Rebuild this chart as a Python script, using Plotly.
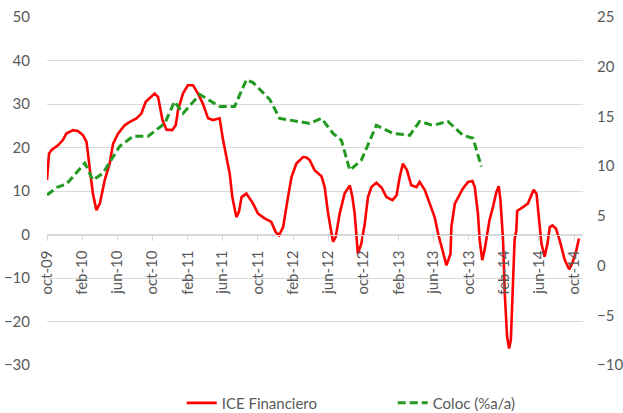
import plotly.graph_objects as go

# ICE Financiero (left axis)
ice_dates = [
    "2009-10-01", "2009-10-08", "2009-10-16", "2009-11-08", "2009-11-25", "2009-12-07",
    "2009-12-30", "2010-01-16", "2010-02-03", "2010-02-15", "2010-02-24", "2010-03-09",
    "2010-03-21", "2010-04-02", "2010-04-19", "2010-05-06", "2010-05-18", "2010-06-04",
    "2010-06-27", "2010-07-15", "2010-08-07", "2010-08-24", "2010-09-08", "2010-09-22",
    "2010-10-09", "2010-10-21", "2010-10-26", "2010-11-05", "2010-11-19", "2010-12-09",
    "2010-12-21", "2010-12-29", "2011-01-15", "2011-02-01", "2011-02-19", "2011-03-08",
    "2011-03-25", "2011-04-12", "2011-04-29", "2011-05-22", "2011-06-03", "2011-06-15",
    "2011-06-26", "2011-07-05", "2011-07-19", "2011-07-28", "2011-08-06", "2011-08-23",
    "2011-09-15", "2011-10-02", "2011-10-25", "2011-11-17", "2011-12-02", "2011-12-14",
    "2011-12-28", "2012-01-14", "2012-01-26", "2012-02-12", "2012-03-06", "2012-03-18",
    "2012-03-29", "2012-04-15", "2012-05-09", "2012-05-20", "2012-06-01", "2012-06-18",
    "2012-06-27", "2012-07-05", "2012-07-11", "2012-07-28", "2012-08-15", "2012-08-24",
    "2012-09-01", "2012-09-12", "2012-09-24", "2012-10-06", "2012-10-17", "2012-10-29",
    "2012-11-15", "2012-12-03", "2012-12-20", "2013-01-10", "2013-01-24", "2013-02-04",
    "2013-02-15", "2013-03-01", "2013-03-16", "2013-04-03", "2013-04-14", "2013-05-02",
    "2013-05-19", "2013-06-05", "2013-06-17", "2013-07-04", "2013-07-16", "2013-07-30",
    "2013-08-02", "2013-08-14", "2013-08-25", "2013-09-11", "2013-09-29", "2013-10-14",
    "2013-10-22", "2013-11-02", "2013-11-08", "2013-11-17", "2013-11-25", "2013-12-07",
    "2013-12-12", "2013-12-24", "2014-01-05", "2014-01-13", "2014-01-19", "2014-01-28",
    "2014-02-03", "2014-02-11", "2014-02-18", "2014-02-24", "2014-03-01", "2014-03-09",
    "2014-03-15", "2014-03-18", "2014-04-07", "2014-04-24", "2014-05-06", "2014-05-14",
    "2014-05-24", "2014-05-29", "2014-06-06", "2014-06-10", "2014-06-21", "2014-07-01",
    "2014-07-09", "2014-07-18", "2014-07-30", "2014-08-12", "2014-08-30", "2014-09-14",
    "2014-09-25", "2014-10-09", "2014-10-18",
]
ice_values = [
    12.5, 18.6, 19.4, 20.5, 21.7, 23.2,
    24.0, 23.8, 22.8, 21.3, 16.3, 9.4,
    5.6, 7.1, 12.5, 16.3, 20.9, 23.2,
    25.1, 25.9, 26.7, 27.8, 30.5, 31.3,
    32.4, 31.6, 30.1, 26.3, 24.1, 24.0,
    25.1, 28.6, 32.4, 34.3, 34.3, 32.4,
    30.1, 26.7, 26.3, 26.7, 21.7, 17.8,
    14.0, 8.6, 4.0, 5.2, 8.6, 9.4,
    7.1, 4.8, 3.7, 2.9, 0.6, -0.2,
    1.7, 8.6, 13.2, 16.3, 17.8, 17.7,
    17.1, 14.8, 13.4, 10.9, 4.8, -1.7,
    -0.6, 2.5, 4.8, 9.4, 11.3, 8.6,
    4.8, -4.4, -2.1, 2.5, 8.6, 10.9,
    11.9, 10.8, 8.6, 7.9, 9.0, 13.2,
    16.3, 14.8, 11.3, 10.9, 12.1, 10.2,
    7.1, 4.0, 0.2, -4.4, -7.1, -4.4,
    1.7, 7.1, 8.6, 10.6, 12.1, 12.3,
    10.9, 4.8, -1.3, -5.9, -3.6, 1.0,
    3.3, 6.3, 9.8, 11.1, 7.9, -1.3,
    -13.6, -23.5, -26.2, -24.3, -14.3, -1.3,
    1.0, 5.4, 6.3, 7.1, 9.0, 10.3,
    9.4, 5.6, 1.0, -2.1, -5.1, -2.1,
    1.7, 2.1, 1.4, -1.3, -5.9, -8.0,
    -6.6, -3.6, -0.9,
]

# Coloc (%a/a) (right axis)
coloc_dates = [
    "2009-10-01", "2009-11-07", "2009-12-08", "2010-02-09", "2010-03-09", "2010-04-13",
    "2010-06-10", "2010-07-26", "2010-09-16", "2010-11-13", "2010-12-17", "2011-01-15",
    "2011-03-14", "2011-05-22", "2011-07-13", "2011-08-23", "2011-09-15", "2011-11-12",
    "2011-12-16", "2012-02-12", "2012-03-29", "2012-05-09", "2012-06-18", "2012-07-17",
    "2012-08-15", "2012-09-24", "2012-11-15", "2013-01-12", "2013-03-11", "2013-04-14",
    "2013-05-30", "2013-07-21", "2013-09-11", "2013-10-16", "2013-11-14",
]
coloc_values = [
    7.1, 7.9, 8.2, 10.3, 8.6, 9.3,
    12.0, 13.0, 13.0, 14.3, 16.5, 15.3,
    17.2, 16.0, 16.0, 18.7, 18.4, 16.7,
    14.8, 14.5, 14.3, 14.8, 13.3, 12.6,
    9.6, 10.6, 14.1, 13.3, 13.1, 14.5,
    14.1, 14.5, 13.1, 12.8, 9.95,
]

tick_dates = [
    "2009-10-01", "2010-02-01", "2010-06-01", "2010-10-01", "2011-02-01", "2011-06-01",
    "2011-10-01", "2012-02-01", "2012-06-01", "2012-10-01", "2013-02-01", "2013-06-01",
    "2013-10-01", "2014-02-01", "2014-06-01", "2014-10-01",
]
tick_labels = [
    "oct-09", "feb-10", "jun-10", "oct-10", "feb-11", "jun-11",
    "oct-11", "feb-12", "jun-12", "oct-12", "feb-13", "jun-13",
    "oct-13", "feb-14", "jun-14", "oct-14",
]

FONT = "Lato, 'Open Sans', sans-serif"
GRAY = "#595959"
FS = 15

fig = go.Figure()
fig.add_trace(go.Scatter(
    x=ice_dates, y=ice_values, name="ICE Financiero", mode="lines",
    line=dict(color="#FF0000", width=2.6), yaxis="y",
))
fig.add_trace(go.Scatter(
    x=coloc_dates, y=coloc_values, name="Coloc (%a/a)", mode="lines",
    line=dict(color="#229A22", width=3, dash="8px,4px"), yaxis="y2",
))

fig.update_layout(
    width=623, height=413,
    margin=dict(l=47, r=40, t=17, b=48, autoexpand=False),
    paper_bgcolor="white", plot_bgcolor="white",
    font=dict(family=FONT, size=FS, color=GRAY),
    showlegend=True,
    legend=dict(
        orientation="h", x=0.645, xanchor="center", y=-0.062, yanchor="top",
        font=dict(family=FONT, size=FS, color=GRAY),
        entrywidth=166, entrywidthmode="pixels",
    ),
    xaxis=dict(
        type="date",
        range=["2009-10-01", "2014-11-01"],
        tickvals=tick_dates, ticktext=tick_labels,
        tickangle=-90,
        anchor="free", position=0.375,
        showline=True, linecolor="#D9D9D9", linewidth=1,
        ticks="outside", ticklen=5, tickcolor="#D9D9D9",
        ticklabelstandoff=4,
        showgrid=False, zeroline=False, automargin=False,
        tickfont=dict(family=FONT, size=FS, color=GRAY),
    ),
    yaxis=dict(
        range=[-30, 50], dtick=10, tick0=0,
        showgrid=True, gridcolor="#D9D9D9", gridwidth=1,
        zeroline=False, showline=False, automargin=False,
        ticks="outside", ticklen=13, tickcolor="rgba(0,0,0,0)",
        tickfont=dict(family=FONT, size=FS, color=GRAY),
    ),
    yaxis2=dict(
        range=[-10, 25], dtick=5, tick0=0,
        overlaying="y", side="right",
        showgrid=False, zeroline=False, showline=False, automargin=False,
        ticks="outside", ticklen=10, tickcolor="rgba(0,0,0,0)",
        tickfont=dict(family=FONT, size=FS, color=GRAY),
    ),
)

fig.write_html(
    "out.html",
    config={"displayModeBar": False},
    post_script="document.body.style.margin='0px';document.body.style.padding='0px';",
)
